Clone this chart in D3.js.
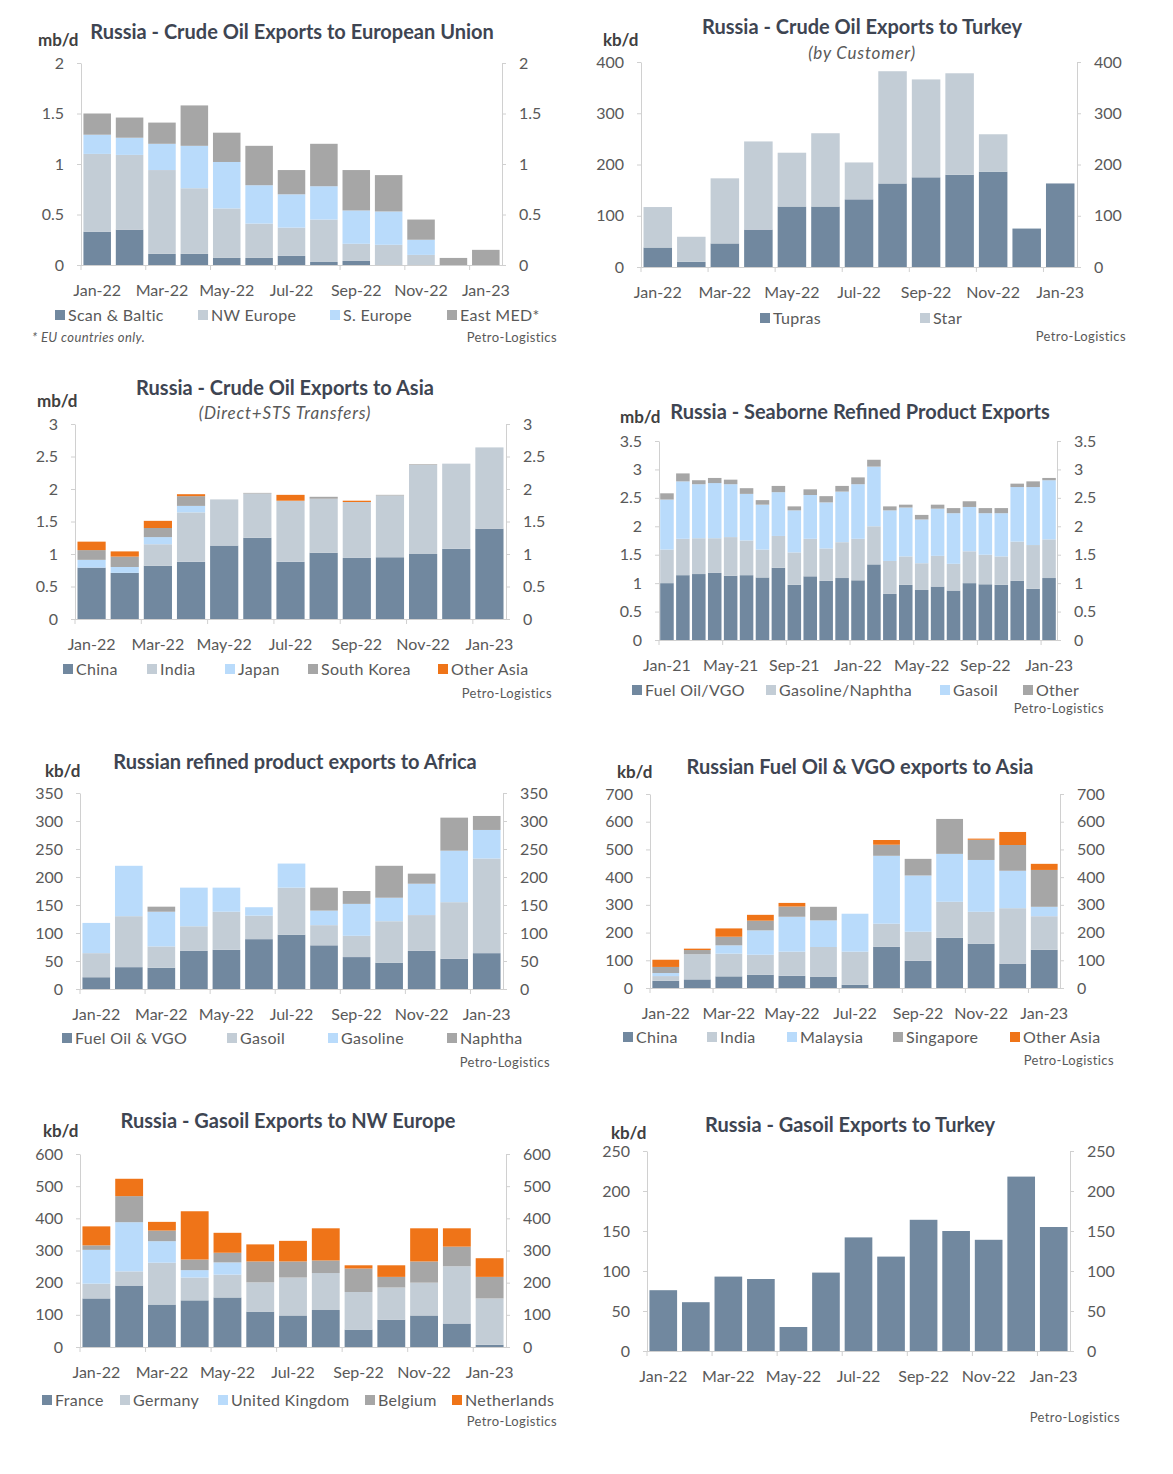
<!DOCTYPE html>
<meta charset="utf-8">
<title>Russian oil exports</title>
<style>
body {
  margin: 0;
  background: #fff;
}
text {
  font-family: Lato, "Open Sans", sans-serif;
}
.tick text, .xlab {
  fill: #595959;
  font-size: 16px;
}
.title {
  fill: #3e4552;
  font-size: 20px;
  font-weight: bold;
}
.sub {
  fill: #595959;
  font-size: 17px;
  font-style: italic;
  letter-spacing: 0.8px;
}
.unit {
  fill: #404040;
  font-size: 17px;
  font-weight: bold;
}
.leg {
  fill: #595959;
  font-size: 16px;
  letter-spacing: 0.3px;
}
.src {
  fill: #595959;
  font-size: 13px;
  letter-spacing: 0.4px;
}
</style>
<body>
<script src="https://d3js.org/d3.v7.min.js"></script>
<script>
var w = 1173,
    h = 1474;

var dark = "#71889f",
    light = "#c3cdd6",
    blue = "#b9dbfb",
    grey = "#a6a6a6",
    orange = "#ef7418";

var months22 = ["Jan-22","Feb-22","Mar-22","Apr-22","May-22","Jun-22","Jul-22","Aug-22","Sep-22","Oct-22","Nov-22","Dec-22","Jan-23"];
var months21 = ["Jan-21","Feb-21","Mar-21","Apr-21","May-21","Jun-21","Jul-21","Aug-21","Sep-21","Oct-21","Nov-21","Dec-21",
                "Jan-22","Feb-22","Mar-22","Apr-22","May-22","Jun-22","Jul-22","Aug-22","Sep-22","Oct-22","Nov-22","Dec-22","Jan-23"];

// crude to EU, mb/d
var euScan = [0.33,0.35,0.11,0.11,0.07,0.07,0.09,0.03,0.04,0,0,0,0];
var euNW   = [0.77,0.74,0.83,0.65,0.49,0.34,0.28,0.42,0.17,0.20,0.10,0,0];
var euSouth= [0.19,0.17,0.26,0.42,0.46,0.38,0.33,0.33,0.33,0.33,0.15,0,0];
var euEast = [0.21,0.20,0.21,0.40,0.29,0.39,0.24,0.42,0.40,0.36,0.20,0.07,0.15];

// crude to Turkey, kb/d
var trTupras = [38,10,46,73,118,118,132,163,175,180,186,75,163];
var trStar   = [79,49,127,172,105,143,72,219,191,198,73,0,0];

// crude to Asia, mb/d
var asChina = [0.79,0.71,0.82,0.88,1.13,1.25,0.88,1.02,0.94,0.95,1.00,1.08,1.39];
var asIndia = [0,0,0.33,0.76,0.71,0.68,0.94,0.83,0.86,0.95,1.37,1.31,1.25];
var asJapan = [0.12,0.09,0.11,0.10,0,0,0,0,0,0,0,0,0];
var asKorea = [0.15,0.16,0.14,0.15,0,0.01,0,0.03,0,0.01,0.01,0,0];
var asOther = [0.13,0.08,0.11,0.03,0,0,0.09,0,0.02,0,0,0,0];

// seaborne products, mb/d
var prFuel = [1.00,1.14,1.16,1.18,1.13,1.14,1.10,1.27,0.97,1.12,1.04,1.09,1.05,1.33,0.81,0.97,0.88,0.94,0.87,1.00,0.98,0.97,1.04,0.90,1.09];
var prGaso = [0.59,0.64,0.63,0.61,0.68,0.61,0.49,0.56,0.57,0.66,0.57,0.63,0.73,0.67,0.58,0.50,0.47,0.54,0.47,0.56,0.52,0.50,0.69,0.77,0.68];
var prGasoil = [0.88,1.01,0.95,0.97,0.93,0.82,0.79,0.77,0.74,0.77,0.81,0.89,0.96,1.05,0.89,0.86,0.77,0.83,0.89,0.78,0.73,0.76,0.96,1.02,1.04];
var prOther = [0.11,0.14,0.07,0.09,0.08,0.10,0.08,0.11,0.07,0.10,0.11,0.10,0.12,0.12,0.07,0.05,0.08,0.07,0.09,0.10,0.09,0.09,0.06,0.10,0.04];

// products to Africa, kb/d
var afFuel     = [21,39,38,68,70,89,97,78,57,47,68,54,64];
var afGasoil   = [43,91,38,44,68,42,84,36,38,74,64,101,169];
var afGasoline = [54,90,62,69,43,15,43,26,57,42,56,92,51];
var afNaphtha  = [0,0,9,0,0,0,0,41,23,57,18,59,25];

// fuel oil & VGO to Asia, kb/d
var foChina = [26,31,42,48,44,41,12,149,98,181,160,88,138];
var foIndia = [17,91,82,72,87,107,119,83,105,130,115,200,121];
var foMalaysia = [11,0,30,88,126,96,137,245,203,173,187,135,34];
var foSingapore = [22,15,31,35,37,49,0,40,60,126,73,93,133];
var foOther = [26,5,30,21,13,0,0,17,0,0,4,47,22];

// gasoil to NW Europe, kb/d
var goFrance  = [151,191,132,145,154,110,98,115,54,85,98,73,7];
var goGermany = [46,44,130,71,71,91,118,115,117,100,102,178,144];
var goUK      = [105,153,67,23,38,0,0,0,0,0,0,0,0];
var goBelgium = [14,81,33,33,30,65,50,39,73,33,66,61,67];
var goNL      = [59,54,27,150,62,53,64,100,10,36,103,57,58];

// gasoil to Turkey, kb/d
var gtTurkey = [76,61,93,90,30,98,142,118,164,150,139,218,155];

var svg = d3.select("body").append("svg")
    .attr("width", w)
    .attr("height", h);

var panels = [
  {title: "Russia - Crude Oil Exports to European Union", tx: 292, ty: 39, unit: "mb/d", ux: 38, uy: 46,
   box: [81, 502, 63, 265], max: 2, step: 0.5, cats: months22, every: 2,
   series: [["Scan & Baltic", euScan, dark], ["NW Europe", euNW, light], ["S. Europe", euSouth, blue], ["East MED*", euEast, grey]],
   legY: 315, legX: [55, 198, 330, 447], src: [557, 342], note: "* EU countries only."},
  {title: "Russia - Crude Oil Exports to Turkey", tx: 862, ty: 34, sub: "(by Customer)", sy: 59, unit: "kb/d", ux: 603, uy: 46,
   box: [641, 1077, 62, 267], max: 400, step: 100, cats: months22, every: 2,
   series: [["Tupras", trTupras, dark], ["Star", trStar, light]],
   legY: 318, legX: [760, 920], src: [1126, 341]},
  {title: "Russia - Crude Oil Exports to Asia", tx: 285, ty: 395, sub: "(Direct+STS Transfers)", sy: 419, unit: "mb/d", ux: 37, uy: 407,
   box: [75, 506, 424, 619], max: 3, step: 0.5, cats: months22, every: 2,
   series: [["China", asChina, dark], ["India", asIndia, light], ["Japan", asJapan, blue], ["South Korea", asKorea, grey], ["Other Asia", asOther, orange]],
   legY: 669, legX: [63, 147, 225, 308, 438], src: [552, 698]},
  {title: "Russia - Seaborne Refined Product Exports", tx: 860, ty: 419, unit: "mb/d", ux: 620, uy: 423,
   box: [659, 1057, 441, 640], max: 3.5, step: 0.5, cats: months21, every: 4,
   series: [["Fuel Oil/VGO", prFuel, dark], ["Gasoline/Naphtha", prGaso, light], ["Gasoil", prGasoil, blue], ["Other", prOther, grey]],
   legY: 690, legX: [632, 766, 940, 1023], src: [1104, 713]},
  {title: "Russian refined product exports to Africa", tx: 295, ty: 769, unit: "kb/d", ux: 45, uy: 777,
   box: [80, 503, 793, 989], max: 350, step: 50, cats: months22, every: 2,
   series: [["Fuel Oil & VGO", afFuel, dark], ["Gasoil", afGasoil, light], ["Gasoline", afGasoline, blue], ["Naphtha", afNaphtha, grey]],
   legY: 1038, legX: [62, 227, 328, 447], src: [550, 1067]},
  {title: "Russian Fuel Oil & VGO exports to Asia", tx: 860, ty: 774, unit: "kb/d", ux: 617, uy: 778,
   box: [650, 1060, 794, 988], max: 700, step: 100, cats: months22, every: 2,
   series: [["China", foChina, dark], ["India", foIndia, light], ["Malaysia", foMalaysia, blue], ["Singapore", foSingapore, grey], ["Other Asia", foOther, orange]],
   legY: 1037, legX: [623, 707, 787, 893, 1010], src: [1114, 1065]},
  {title: "Russia - Gasoil Exports to NW Europe", tx: 288, ty: 1128, unit: "kb/d", ux: 43, uy: 1137,
   box: [80, 506, 1154, 1347], max: 600, step: 100, cats: months22, every: 2,
   series: [["France", goFrance, dark], ["Germany", goGermany, light], ["United Kingdom", goUK, blue], ["Belgium", goBelgium, grey], ["Netherlands", goNL, orange]],
   legY: 1400, legX: [42, 120, 218, 365, 452], src: [557, 1426]},
  {title: "Russia - Gasoil Exports to Turkey", tx: 850, ty: 1132, unit: "kb/d", ux: 611, uy: 1139,
   box: [647, 1070, 1151, 1351], max: 250, step: 50, cats: months22, every: 2,
   series: [["Turkey", gtTurkey, dark]],
   legY: null, src: [1120, 1422]}
];

panels.forEach(drawPanel);

function drawPanel(p) {
  var L = p.box[0], R = p.box[1], T = p.box[2], B = p.box[3];
  var g = svg.append("g");

  var x = d3.scaleBand()
      .domain(p.cats)
      .range([L, R])
      .paddingInner(0.15)
      .paddingOuter(0.075);
  var y = d3.scaleLinear()
      .domain([0, p.max])
      .range([B, T]);

  var keys = p.series.map(function(s) { return s[0]; });
  var rows = p.cats.map(function(c, i) {
    var r = {cat: c};
    p.series.forEach(function(s) { r[s[0]] = s[1][i]; });
    return r;
  });
  var stacked = d3.stack().keys(keys)(rows);

  g.selectAll("g.layer")
      .data(stacked)
    .enter().append("g")
      .attr("class", "layer")
      .attr("fill", function(d, i) { return p.series[i][2]; })
    .selectAll("rect")
      .data(function(d) { return d; })
    .enter().append("rect")
      .attr("x", function(d) { return x(d.data.cat); })
      .attr("width", x.bandwidth())
      .attr("y", function(d) { return y(d[1]); })
      .attr("height", function(d) { return y(d[0]) - y(d[1]); });

  var ticks = d3.range(0, p.max + p.step / 2, p.step);
  var fmt = function(d) { return +d.toFixed(1) + ""; };

  var ax = g.append("g")
      .attr("transform", "translate(" + L + ",0)")
      .call(d3.axisLeft(y).tickValues(ticks).tickFormat(fmt).tickSize(4).tickSizeOuter(0).tickPadding(13));
  var ay = g.append("g")
      .attr("transform", "translate(" + R + ",0)")
      .call(d3.axisRight(y).tickValues(ticks).tickFormat(fmt).tickSize(4).tickSizeOuter(0).tickPadding(13));
  [ax, ay].forEach(function(a) {
    a.select(".domain").attr("stroke", "#d0d0d0");
    a.selectAll(".tick line").attr("stroke", "#d0d0d0");
    a.selectAll(".tick text").attr("font-size", null).attr("font-family", null);
  });

  // category axis: ticks on group boundaries, labels under every n-th bar
  var stepX = x.step();
  g.append("line")
      .attr("x1", L).attr("x2", R)
      .attr("y1", B + 0.5).attr("y2", B + 0.5)
      .attr("stroke", "#d0d0d0");
  g.selectAll("line.xt")
      .data(d3.range(0, p.cats.length, p.every))
    .enter().append("line")
      .attr("class", "xt")
      .attr("x1", function(k) { return L + k * stepX; })
      .attr("x2", function(k) { return L + k * stepX; })
      .attr("y1", B).attr("y2", B + 5)
      .attr("stroke", "#d0d0d0");
  g.selectAll("text.xlab")
      .data(p.cats.filter(function(c, i) { return i % p.every === 0; }))
    .enter().append("text")
      .attr("class", "xlab")
      .attr("x", function(c) { return x(c) + x.bandwidth() / 2; })
      .attr("y", B + 31)
      .attr("text-anchor", "middle")
      .text(function(c) { return c; });

  g.append("text")
      .attr("class", "title")
      .attr("x", p.tx).attr("y", p.ty)
      .attr("text-anchor", "middle")
      .text(p.title);
  if (p.sub) {
    g.append("text")
        .attr("class", "sub")
        .attr("x", p.tx).attr("y", p.sy)
        .attr("text-anchor", "middle")
        .text(p.sub);
  }
  g.append("text")
      .attr("class", "unit")
      .attr("x", p.ux).attr("y", p.uy)
      .text(p.unit);

  if (p.legY != null) {
    var lg = g.selectAll("g.leg")
        .data(p.series)
      .enter().append("g")
        .attr("transform", function(s, i) { return "translate(" + p.legX[i] + "," + p.legY + ")"; });
    lg.append("rect")
        .attr("x", 0).attr("y", -5)
        .attr("width", 10).attr("height", 10)
        .attr("fill", function(s) { return s[2]; });
    lg.append("text")
        .attr("class", "leg")
        .attr("x", 13).attr("y", 6)
        .text(function(s) { return s[0]; });
  }

  if (p.note) {
    g.append("text")
        .attr("class", "src")
        .attr("x", 32).attr("y", p.src[1])
        .attr("font-size", 12)
        .attr("font-style", "italic")
        .text(p.note);
  }
  g.append("text")
      .attr("class", "src")
      .attr("x", p.src[0]).attr("y", p.src[1])
      .attr("text-anchor", "end")
      .text("Petro-Logistics");
}
</script>
